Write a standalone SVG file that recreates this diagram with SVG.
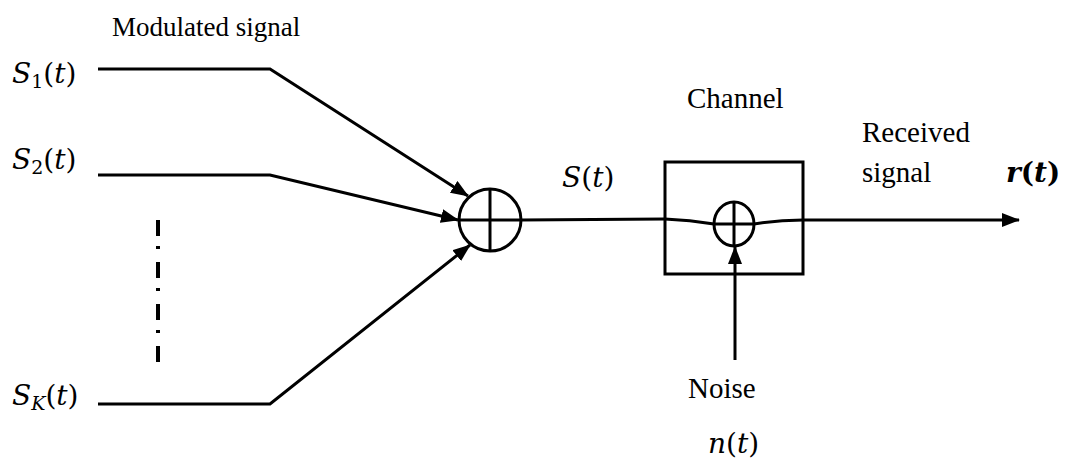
<svg xmlns="http://www.w3.org/2000/svg" width="1065" height="468" viewBox="0 0 1065 468">
<style>
.ln{stroke:#000;stroke-width:3;fill:none}
.txt{font-family:"Liberation Serif","Times New Roman",serif;font-size:29px;fill:#000}
.m{font-family:"DejaVu Serif",serif;font-style:italic;font-size:28px;fill:#000}
.up{font-style:normal}
.sub{font-size:19px}
</style>
<defs>
<marker id="ah" markerUnits="userSpaceOnUse" markerWidth="18" markerHeight="14" refX="17" refY="7" orient="auto">
<path d="M0,0 L18,7 L0,14 Z" fill="#000"/>
</marker>
</defs>
<g id="labels">
<text class="txt" x="112" y="36" style="font-size:27px">Modulated signal</text>
<text class="txt" x="687" y="108">Channel</text>
<text class="txt" x="862" y="142">Received</text>
<text class="txt" x="862" y="182">signal</text>
<text class="txt" x="688" y="398">Noise</text>
</g>
<g id="s1">
<text class="m" x="12" y="83">S<tspan class="up sub" dy="5">1</tspan><tspan class="up" dy="-5">(</tspan>t<tspan class="up">)</tspan></text>
</g>
<g id="s2">
<text class="m" x="12" y="169">S<tspan class="up sub" dy="5">2</tspan><tspan class="up" dy="-5">(</tspan>t<tspan class="up">)</tspan></text>
</g>
<g id="sk">
<text class="m" x="12" y="405">S<tspan class="sub" dy="5">K</tspan><tspan class="up" dy="-5">(</tspan>t<tspan class="up">)</tspan></text>
</g>
<g id="st">
<text class="m" x="562" y="187">S<tspan class="up">(</tspan>t<tspan class="up">)</tspan></text>
</g>
<g id="nt">
<text class="m" x="708" y="453">n<tspan class="up">(</tspan>t<tspan class="up">)</tspan></text>
</g>
<g id="rt">
<text class="m" x="1006" y="182" style="font-weight:bold">r<tspan class="up">(</tspan>t<tspan class="up">)</tspan></text>
</g>
<g id="dots">
<line class="ln" x1="158" y1="220" x2="158" y2="362" style="stroke-width:4;stroke-dasharray:16 10 3 13"/>
</g>
<g id="adder">
<circle class="ln" cx="490" cy="220" r="31"/>
<line class="ln" x1="459" y1="220" x2="521" y2="220"/>
<line class="ln" x1="490" y1="189" x2="490" y2="251"/>
</g>
<g id="channel">
<rect class="ln" x="665" y="162" width="138" height="112"/>
<ellipse class="ln" cx="734" cy="224" rx="20" ry="22"/>
<line class="ln" x1="714" y1="224" x2="754" y2="224"/>
<line class="ln" x1="734" y1="202" x2="734" y2="246"/>
<path class="ln" d="M665,219 Q690,220 714,224"/>
<path class="ln" d="M754,224 Q778,220 803,220"/>
</g>
<g id="connectors">
<polyline class="ln" points="98,69 270,69 468,196" marker-end="url(#ah)"/>
<polyline class="ln" points="98,175 270,175 458,220" marker-end="url(#ah)"/>
<polyline class="ln" points="98,404 270,404 470,245" marker-end="url(#ah)"/>
<line class="ln" x1="521" y1="220" x2="665" y2="219"/>
<line class="ln" x1="803" y1="220" x2="1019" y2="220" marker-end="url(#ah)"/>
<line class="ln" x1="735" y1="360" x2="735" y2="247" marker-end="url(#ah)"/>
</g>
</svg>
